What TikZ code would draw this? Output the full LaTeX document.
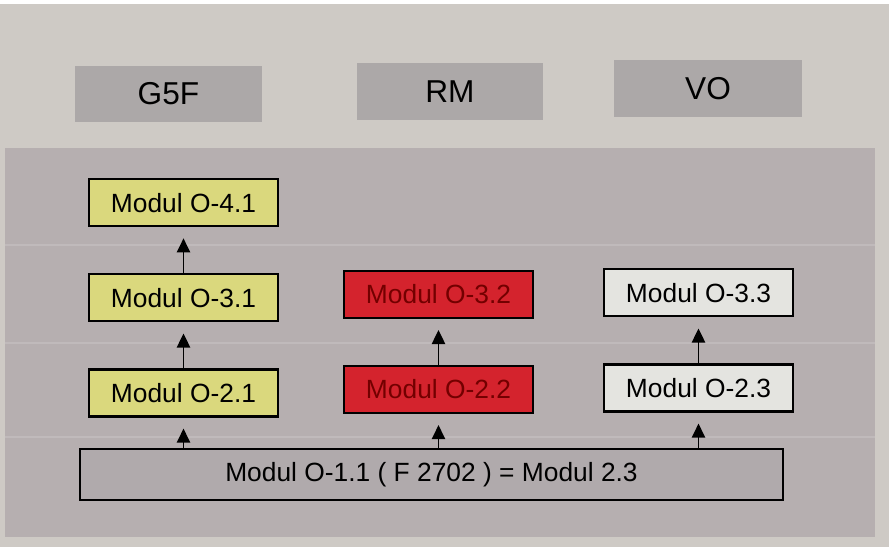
\documentclass[tikz,border=0pt]{standalone}
\usepackage{fontspec}
\setmainfont{Liberation Sans}
\usetikzlibrary{positioning,arrows.meta}
\definecolor{paper}{RGB}{206,202,197}
\definecolor{headgray}{RGB}{172,168,168}
\definecolor{panelgray}{RGB}{182,175,176}
\definecolor{modyellow}{RGB}{218,216,125}
\definecolor{modred}{RGB}{212,35,45}
\definecolor{modwhite}{RGB}{228,228,224}
\definecolor{basegray}{RGB}{176,170,172}
\begin{document}
\begin{tikzpicture}[
    head/.style = {fill=headgray, minimum width=3.75cm, minimum height=1.13cm, font=\fontsize{18}{20}\selectfont},
    modul/.style = {draw, line width=1.2pt, minimum width=3.78cm, minimum height=0.94cm, font=\fontsize{15}{17}\selectfont},
    up/.style = {-{Triangle[width=7.5pt,length=8pt]}, line width=1pt, shorten >=0.22cm}
  ]
  % background and panel
  \fill[paper] (0,0) rectangle (17.78,-10.94);
  \fill[white] (0,0) rectangle (17.78,-0.08);
  \fill[panelgray] (0.1,-2.96) rectangle (17.5,-10.74);
  \foreach \y in {-4.9,-6.86,-8.74}
    \draw[white, opacity=0.15, line width=0.6pt] (0.1,\y) -- (17.5,\y);

  % column heads
  \node[head] (g5f) at (3.37,-1.88) {G5F};
  \node[head] (rm) [minimum width=3.72cm] at (9.0,-1.83) {RM};
  \node[head] (vo) at (14.16,-1.77) {VO};

  % modules
  \node[modul, fill=basegray, minimum width=14.06cm, minimum height=1.02cm] (base) at (8.63,-9.49) {Modul O-1.1 ( F 2702 ) = Modul 2.3};

  \node[modul, fill=modyellow] (o21) at (3.67,-7.86) {Modul O-2.1};
  \node[modul, fill=modyellow] (o31) [above=0.92cm of o21] {Modul O-3.1};
  \node[modul, fill=modyellow] (o41) [above=0.92cm of o31] {Modul O-4.1};

  \node[modul, fill=modred, text=red!45!black] (o22) at (8.77,-7.79) {Modul O-2.2};
  \node[modul, fill=modred, text=red!45!black] (o32) [above=0.92cm of o22] {Modul O-3.2};

  \node[modul, fill=modwhite] (o23) at (13.97,-7.76) {Modul O-2.3};
  \node[modul, fill=modwhite] (o33) [above=0.92cm of o23] {Modul O-3.3};

  % arrows
  \draw[up] (base.north -| o21) -- (o21);
  \draw[up] (base.north -| o22) -- (o22);
  \draw[up] (base.north -| o23) -- (o23);
  \draw[up] (o21) -- (o31);
  \draw[up] (o22) -- (o32);
  \draw[up] (o23) -- (o33);
  \draw[up] (o31) -- (o41);
\end{tikzpicture}
\end{document}
